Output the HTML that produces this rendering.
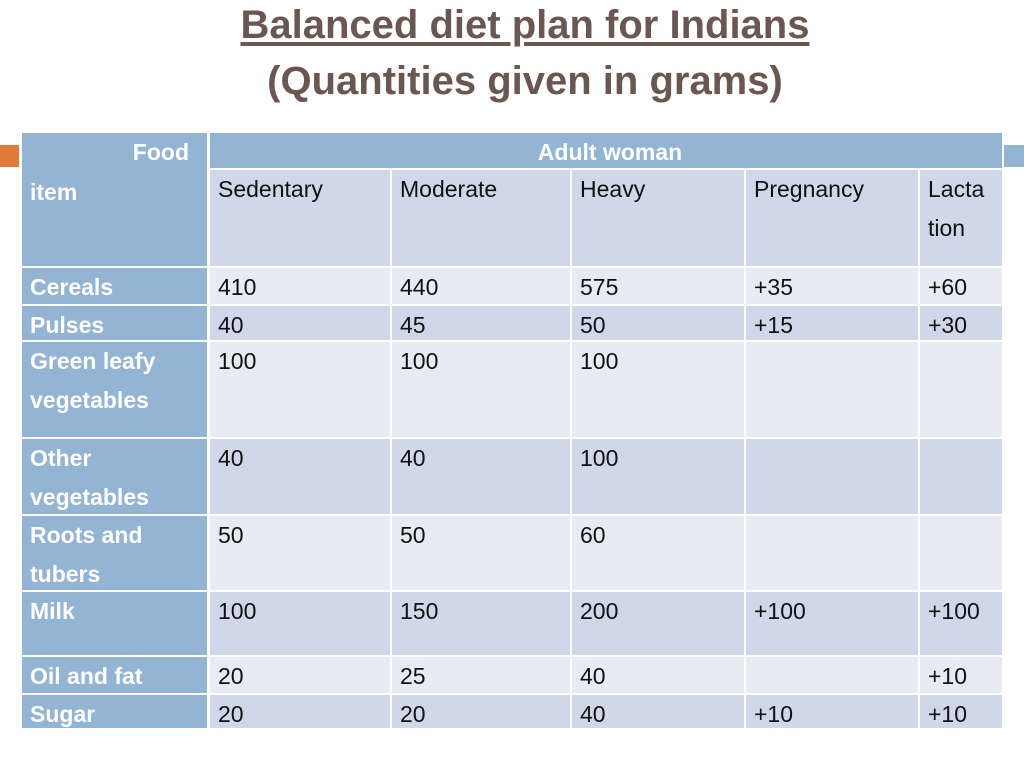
<!DOCTYPE html>
<html><head><meta charset="utf-8">
<style>
body{margin:0;width:1024px;height:768px;background:#fff;position:relative;overflow:hidden;font-family:"Liberation Sans",sans-serif;}
.t{position:absolute;left:0;width:1050px;text-align:center;color:#6b5752;font-weight:bold;font-size:40px;}
.c{position:absolute;box-sizing:border-box;padding-left:8px;font-size:23px;line-height:39px;color:#111;}
.h{background:#94b4d4;color:#fff;font-weight:bold;}
.l{background:#e8ebf4;}
.d{background:#d0d7e8;}
</style></head><body>
<div class="t" style="top:3px;"><span style="text-decoration:underline;text-underline-offset:4px">Balanced diet plan for Indians</span></div>
<div class="t" style="top:59px;">(Quantities given in grams)</div>
<div style="position:absolute;left:0;top:145px;width:19px;height:22px;background:#e07b39"></div>
<div style="position:absolute;left:1004px;top:145px;width:20px;height:22px;background:#94b4d4"></div>
<div id="tbl"></div>
<script>
const colX=[22,208,390,570,744,918,1002];
const rowY=[268,306,342,439,516,592,657,695,730];
const foods=["Cereals","Pulses","Green leafy<br>vegetables","Other<br>vegetables","Roots and<br>tubers","Milk","Oil and fat","Sugar"];
const sedentary=["410","40","100","40","50","100","20","20"];
const moderate=["440","45","100","40","50","150","25","20"];
const heavy=["575","50","100","100","60","200","40","40"];
const pregnancy=["+35","+15","","","","+100","","+10"];
const lactation=["+60","+30","","","","+100","+10","+10"];
const headers=["Sedentary","Moderate","Heavy","Pregnancy","Lacta<br>tion"];
const tbl=document.getElementById('tbl');
function cell(x,y,w,h,cls,html,name){
  const d=document.createElement('div');
  d.className='c '+cls;
  d.style.left=x+'px';d.style.top=y+'px';d.style.width=w+'px';d.style.height=h+'px';
  d.innerHTML=html;
  
  
  tbl.appendChild(d);return d;
}
let f=cell(22,133,185,133,'h','<div style="text-align:right;padding-right:18px">Food</div><div style="padding-top:1px">item</div>','food-item-header');
f.style.paddingTop='0px';
let a=cell(210,133,792,35,'h','Adult woman','adult-woman-header');
a.style.textAlign='center';a.style.lineHeight='38px';
for(let i=0;i<5;i++){
  cell(colX[i+1]+2,170,colX[i+2]-colX[i+1]-2,96,'d',headers[i],'column-header');
}
const cols=[sedentary,moderate,heavy,pregnancy,lactation];
for(let r=0;r<foods.length;r++){
  const y=rowY[r],h=rowY[r+1]-rowY[r]-2,cls=(r%2===0)?'l':'d';
  cell(22,y,185,h,'h',foods[r],'food-label');
  for(let c=0;c<5;c++){
    cell(colX[c+1]+2,y,colX[c+2]-colX[c+1]-2,h,cls,cols[c][r],'value-cell');
  }
}
</script>
</body></html>
